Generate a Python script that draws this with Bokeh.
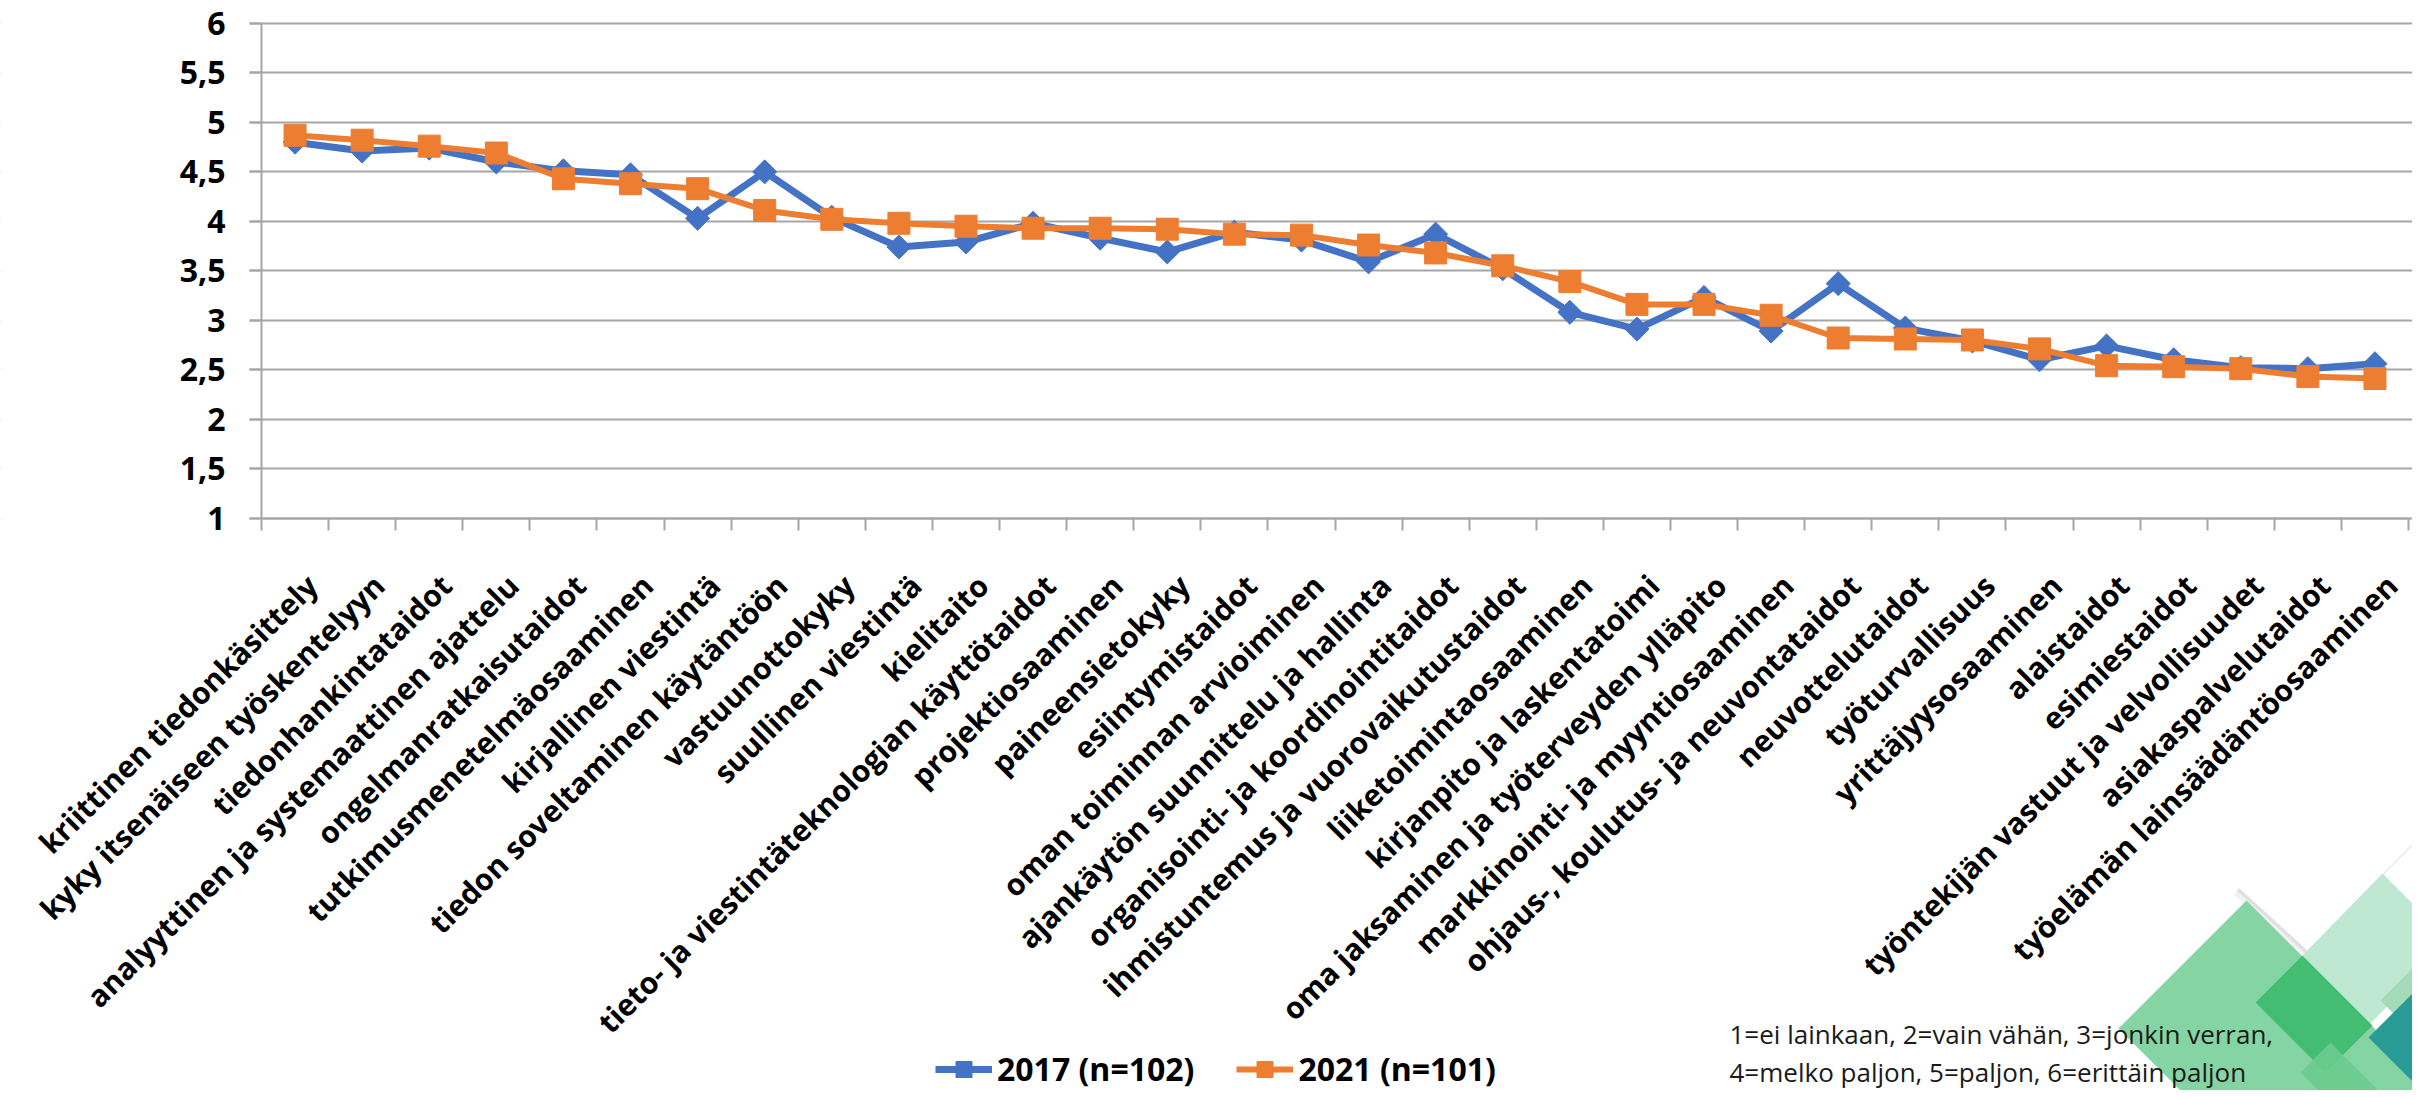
import math
from bokeh.plotting import figure
from bokeh.models import (Range1d, FixedTicker, LinearAxis, Legend, BoxAnnotation,
                          LegendItem, Label, PolyAnnotation, ColumnDataSource)
from bokeh.embed import file_html
from bokeh.resources import INLINE

# ---------------- data ----------------
categories = [
    "kriittinen tiedonkäsittely",
    "kyky itsenäiseen työskentelyyn",
    "tiedonhankintataidot",
    "analyyttinen ja systemaattinen ajattelu",
    "ongelmanratkaisutaidot",
    "tutkimusmenetelmäosaaminen",
    "kirjallinen viestintä",
    "tiedon soveltaminen käytäntöön",
    "vastuunottokyky",
    "suullinen viestintä",
    "kielitaito",
    "tieto- ja viestintäteknologian käyttötaidot",
    "projektiosaaminen",
    "paineensietokyky",
    "esiintymistaidot",
    "oman toiminnan arvioiminen",
    "ajankäytön suunnittelu ja hallinta",
    "organisointi- ja koordinointitaidot",
    "ihmistuntemus ja vuorovaikutustaidot",
    "liiketoimintaosaaminen",
    "kirjanpito ja laskentatoimi",
    "oma jaksaminen ja työterveyden ylläpito",
    "markkinointi- ja myyntiosaaminen",
    "ohjaus-, koulutus- ja neuvontataidot",
    "neuvottelutaidot",
    "työturvallisuus",
    "yrittäjyysosaaminen",
    "alaistaidot",
    "esimiestaidot",
    "työntekijän vastuut ja velvollisuudet",
    "asiakaspalvelutaidot",
    "työelämän lainsäädäntöosaaminen",
]
values_2017 = [4.80, 4.71, 4.74, 4.60, 4.51, 4.47, 4.03, 4.50, 4.04, 3.74, 3.79,
               3.98, 3.83, 3.69, 3.89, 3.81, 3.59, 3.87, 3.52, 3.08, 2.91, 3.23,
               2.89, 3.37, 2.92, 2.79, 2.60, 2.74, 2.60, 2.52, 2.51, 2.56]
values_2021 = [4.87, 4.82, 4.76, 4.69, 4.43, 4.38, 4.33, 4.11, 4.02, 3.98, 3.95,
               3.93, 3.93, 3.92, 3.87, 3.86, 3.76, 3.68, 3.55, 3.39, 3.16, 3.16,
               3.05, 2.82, 2.81, 2.80, 2.71, 2.54, 2.53, 2.51, 2.43, 2.41]
series_names = ["2017 (n=102)", "2021 (n=101)"]
y_ticks = [1, 1.5, 2, 2.5, 3, 3.5, 4, 4.5, 5, 5.5, 6]
y_tick_labels = ["1", "1,5", "2", "2,5", "3", "3,5", "4", "4,5", "5", "5,5", "6"]
scale_note = ["1=ei lainkaan, 2=vain vähän, 3=jonkin verran,",
              "4=melko paljon, 5=paljon, 6=erittäin paljon"]

# ---------------- style / geometry ----------------
BLUE = "#4472C4"
ORANGE = "#ED7D31"
GRID = "#A6A6A6"
FONT = "Open Sans"

W, H = 2412, 1090
AX_L, AX_R, AX_T, AX_B = 261, 2408, 23, 517.5   # plot area edges in canvas pixels
N = len(categories)
XPX = (AX_R - AX_L) / N                          # pixels per category slot
YPX = (AX_B - AX_T) / (y_ticks[-1] - y_ticks[0])  # pixels per scale unit
TICK = 12

x_start = -AX_L / XPX
x_end = N + (W - AX_R) / XPX
y_top = y_ticks[-1] + AX_T / YPX
y_bottom = y_ticks[-1] - (H - AX_T) / YPX
x_pos = [i + 0.5 for i in range(N)]              # category slot centres

p = figure(width=W, height=H,
           x_range=Range1d(x_start, x_end),
           y_range=Range1d(y_bottom, y_top),
           output_backend="svg", toolbar_location=None,
           x_axis_location=None, y_axis_location=None, title=None,
           min_border=0)
p.outline_line_color = None
p.background_fill_color = "white"
p.border_fill_color = "white"

yt = FixedTicker(ticks=y_ticks)
p.ygrid.ticker = yt
p.ygrid.grid_line_color = GRID
p.ygrid.grid_line_width = 2
p.xgrid.visible = False

# hide the part of the grid lines left of the tick marks
p.add_layout(BoxAnnotation(left=x_start, right=-TICK / XPX, bottom=y_bottom, top=y_top,
                           fill_color="white", fill_alpha=1, line_color=None,
                           level="underlay"))

# y axis fixed at x = 0
yaxis = LinearAxis(fixed_location=0, ticker=yt, bounds=(y_ticks[0], y_ticks[-1]),
                   major_label_overrides=dict(zip(y_ticks, y_tick_labels)),
                   major_label_text_font=FONT, major_label_text_font_style="bold",
                   major_label_text_font_size="32px", major_label_text_color="black",
                   major_tick_out=TICK, major_tick_in=0,
                   major_tick_line_color=GRID, major_tick_line_width=2,
                   minor_tick_line_color=None,
                   axis_line_color=GRID, axis_line_width=2,
                   major_label_standoff=24)
p.add_layout(yaxis, "left")

# x axis fixed at y = 1: labels slightly right of slot centres, ticks at slot boundaries
label_pos = [i + 0.75 for i in range(N)]
boundaries = list(range(N + 1))
xaxis = LinearAxis(fixed_location=y_ticks[0], bounds=(0, N),
                   ticker=FixedTicker(ticks=label_pos, minor_ticks=boundaries),
                   major_label_overrides=dict(zip(label_pos, categories)),
                   major_label_orientation=math.pi / 4,
                   major_label_text_font=FONT,
                   major_label_text_font_style="bold",
                   major_label_text_font_size="30px",
                   major_label_text_color="black",
                   major_label_standoff=50,
                   major_tick_out=0, major_tick_in=0,
                   major_tick_line_color=None,
                   minor_tick_out=TICK, minor_tick_in=0,
                   minor_tick_line_color=GRID, minor_tick_line_width=2,
                   axis_line_color=GRID, axis_line_width=2)
p.add_layout(xaxis, "below")


# ---------------- decorations (bottom-right corner) ----------------
def to_data(xp, yp):
    return (xp - AX_L) / XPX, y_ticks[-1] - (yp - AX_T) / YPX


def poly(pts, color, alpha=1.0, dx=0, dy=0):
    xs, ys = zip(*[to_data(x + dx, y + dy) for x, y in pts])
    p.add_layout(PolyAnnotation(xs=list(xs), ys=list(ys), fill_color=color,
                                fill_alpha=alpha, line_color=None, level="underlay"))


white_d = [(2238, 887), (2363, 760), (2432, 823), (2307, 950)]
poly(white_d, "#000000", 0.05, -5, 7)
poly(white_d, "#000000", 0.07, -2, 3)
poly(white_d, "#FFFFFF", 1.0)
poly([(2118, 1028), (2246, 900), (2446, 1100), (2318, 1228)], "#84D4A4", 1.0)
poly([(2302, 955), (2382, 873), (2450, 941), (2370, 1023)], "#BEE8D2", 1.0)
poly([(2380, 1000), (2430, 950), (2470, 990), (2420, 1040)], "#A4DCB9", 1.0)
poly([(2255, 1002), (2302, 955), (2372, 1025), (2325, 1072)], "#3DBB6D", 0.92)
poly([(2300, 1072), (2330, 1042), (2400, 1112), (2370, 1142)], "#6CCB8F", 0.9)
poly([(2368, 1037), (2420, 985), (2520, 1085), (2468, 1137)], "#289B96", 1.0)

# ---------------- series ----------------
src = ColumnDataSource(dict(x=x_pos, cat=categories, v17=values_2017, v21=values_2021))
r1l = p.line("x", "v17", source=src, line_color=BLUE, line_width=7, line_join="round")
r1m = p.scatter("x", "v17", source=src, marker="square", size=17, angle=math.pi / 4,
                fill_color=BLUE, line_color=BLUE)
r2l = p.line("x", "v21", source=src, line_color=ORANGE, line_width=6, line_join="round")
r2m = p.scatter("x", "v21", source=src, marker="square", size=22,
                fill_color=ORANGE, line_color=ORANGE)

legend = Legend(items=[LegendItem(label=series_names[0], renderers=[r1l, r1m]),
                       LegendItem(label=series_names[1], renderers=[r2l, r2m])],
                location=(935, 0), orientation="horizontal",
                glyph_width=57, glyph_height=40, label_standoff=5, spacing=42,
                padding=0, margin=0, border_line_color=None,
                background_fill_alpha=0,
                label_text_font=FONT, label_text_font_style="bold",
                label_text_font_size="32px", label_text_color="black")
p.add_layout(legend)

# scale note
for i, line in enumerate(scale_note):
    lx, ly = to_data(1729, 1033 + 38 * i)
    p.add_layout(Label(x=lx, y=ly, text=line, text_font=FONT, text_font_size="26px",
                       text_color="#1a1a1a", text_baseline="middle", text_align="left"))

open("out.html", "w").write(file_html(p, INLINE))
